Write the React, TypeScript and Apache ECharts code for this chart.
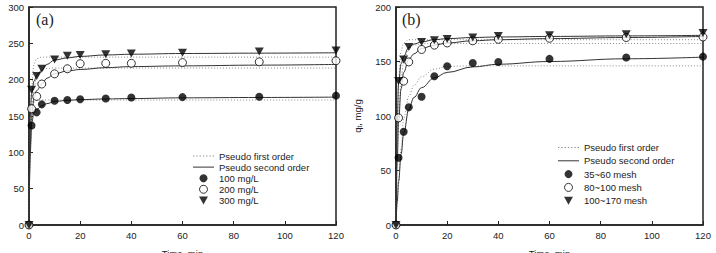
import React, { useEffect, useRef } from "react";
import * as echarts from "echarts";

// Experimental sampling times (min)
const timeMin = [0, 1, 3, 5, 10, 15, 20, 30, 40, 60, 90, 120];
// Panel (a): initial concentrations
const conc100 = [0, 137, 155, 166, 171, 172, 173, 174, 175.5, 176, 176.5, 178];
const conc200 = [0, 160, 177, 194, 208, 215, 222, 222.5, 222.5, 223.5, 224.5, 226];
const conc300 = [0, 186, 205, 215, 227.6, 233, 234, 235, 236, 237, 238.6, 240];
// Panel (b): particle sizes
const mesh35 = [0, 61.7, 85.5, 108, 117.6, 136.5, 145.6, 148.7, 149.6, 152.4, 153.6, 154.5];
const mesh80 = [0, 98.3, 132, 149.6, 161, 165, 167, 169, 170.4, 171.3, 172, 172.5];
const mesh100 = [0, 132, 151.8, 163.4, 168, 169.5, 170.7, 172, 173.4, 174, 175, 176.2];

// Model curves
const fitT = [0, 0.5, 1, 2, 3, 5, 7, 10, 15, 20, 30, 40, 60, 90, 120];
const aPso100 = [0, 100, 140, 155, 159, 164, 167, 170, 171.5, 172.5, 173.5, 174, 175, 175.5, 176];
const aPfo100 = [0, 120, 155, 169, 171.5, 172, 172, 172, 172, 172, 172, 172, 172, 172, 172];
const aPso200 = [0, 110, 150, 175, 185, 194, 202, 208, 212, 214, 216.5, 218, 219, 220, 221];
const aPfo200 = [0, 95, 150, 190, 204, 213, 215.5, 216, 216, 216, 216, 216, 216, 216, 216];
const aPso300 = [0, 150, 180, 198, 206, 213, 221, 227, 230, 232, 234, 235, 236, 236.5, 237];
const aPfo300 = [0, 140, 190, 222, 229, 231, 231, 231, 231, 231, 231, 231, 231, 231, 231];
const bPso35 = [0, 22, 40, 65, 84, 106, 117, 126, 135, 140, 145, 147.5, 150, 152.5, 154];
const bPfo35 = [0, 20, 38, 70, 98, 118, 128, 136, 143, 145.5, 146, 146, 146, 146, 146];
const bPso80 = [0, 60, 95, 125, 140, 152, 157, 162, 165, 167, 169, 170, 171, 172, 173];
const bPfo80 = [0, 65, 100, 135, 150, 162, 165, 166.3, 166.5, 166.5, 166.5, 166.5, 166.5, 166.5, 166.5];
const bPso100 = [0, 95, 130, 148, 155, 163, 166, 168, 170, 171, 172, 172.5, 173, 173.5, 174];
const bPfo100 = [0, 95, 135, 160, 167, 170, 170, 170, 170, 170, 170, 170, 170, 170, 170];

const legendA = ["100 mg/L", "200 mg/L", "300 mg/L"];
const legendB = ["35~60 mesh", "80~100 mesh", "100~170 mesh"];
const PFO = "Pseudo first order";
const PSO = "Pseudo second order";

const FONT = "'Liberation Sans', Arial, sans-serif";
const FS = 9.5;
const DOT_GRAY = "#8a8a8a";
const LINE_DARK = "#333";
const pair = (xs: number[], ys: number[]) => xs.map((x, i) => [x, ys[i]]);

// legend icon paths
const dottedIcon = "path://" + Array.from({ length: 7 }, (_, i) => `M${i * 3},0h1.2v1h-1.2z`).join("");
const solidIcon = "path://M0,0h21v1h-21z";
const triIcon = "path://M0,0L10,0L5,9Z";

function fitLine(name: string, ys: number[], idx: number, dotted: boolean) {
  return {
    type: "line",
    name,
    xAxisIndex: idx,
    yAxisIndex: idx,
    data: pair(fitT, ys),
    smooth: 0.4,
    smoothMonotone: "x",
    symbol: "none",
    showSymbol: false,
    z: 2,
    lineStyle: dotted
      ? { color: DOT_GRAY, width: 1, type: [1, 2] }
      : { color: LINE_DARK, width: 1, type: "solid" },
    itemStyle: { color: dotted ? DOT_GRAY : LINE_DARK },
  };
}

function points(name: string, ys: number[], idx: number, kind: "filled" | "open" | "tri") {
  const base: any = {
    type: "scatter",
    name,
    xAxisIndex: idx,
    yAxisIndex: idx,
    data: pair(timeMin, ys),
    z: 5,
    symbolSize: 8,
  };
  if (kind === "filled") {
    base.symbol = "circle";
    base.itemStyle = { color: "#000" };
  } else if (kind === "open") {
    base.symbol = "circle";
    base.itemStyle = { color: "#fff", borderColor: "#000", borderWidth: 1 };
  } else {
    base.symbol = triIcon;
    base.symbolSize = [9, 8];
    base.itemStyle = { color: "#000" };
  }
  return base;
}

function xAxis(idx: number) {
  return {
    type: "value",
    gridIndex: idx,
    min: 0,
    max: 120,
    interval: 20,
    name: "Time, min",
    nameLocation: "middle",
    nameGap: 23,
    nameTextStyle: { fontFamily: FONT, fontSize: FS, color: "#222" },
    axisLine: { show: true, lineStyle: { color: "#222", width: 1.5 } },
    axisTick: { show: true, inside: true, length: 4, lineStyle: { color: "#222" } },
    axisLabel: { fontFamily: FONT, fontSize: FS, color: "#222", margin: 5 },
    splitLine: { show: false },
  };
}

function yAxis(idx: number, max: number, withName: boolean) {
  return {
    type: "value",
    gridIndex: idx,
    min: 0,
    max,
    interval: 50,
    name: withName ? "q{sub|t}, mg/g" : "",
    nameLocation: "middle",
    nameGap: 33,
    nameRotate: 90,
    nameTextStyle: {
      fontFamily: FONT,
      fontSize: FS,
      color: "#222",
      rich: { sub: { fontFamily: FONT, fontSize: 6.5, color: "#222", verticalAlign: "bottom", padding: [5, 0, 0, 0] } },
    },
    axisLine: { show: true, lineStyle: { color: "#222", width: 1.5 } },
    axisTick: { show: true, inside: true, length: 4, lineStyle: { color: "#222" } },
    axisLabel: { fontFamily: FONT, fontSize: FS, color: "#222", margin: 5 },
    splitLine: { show: false },
  };
}

function legend(left: number, top: number, gap: number, names: string[]) {
  return {
    left,
    top,
    orient: "vertical",
    itemWidth: 21,
    itemHeight: 8,
    itemGap: gap,
    padding: 0,
    selectedMode: false,
    data: [
      { name: PFO, icon: dottedIcon, itemStyle: { color: DOT_GRAY } },
      { name: PSO, icon: solidIcon, itemStyle: { color: LINE_DARK } },
      { name: names[0], icon: "circle", itemStyle: { color: "#000" } },
      { name: names[1], icon: "circle", itemStyle: { color: "#fff", borderColor: "#000", borderWidth: 1 } },
      { name: names[2], icon: triIcon, itemStyle: { color: "#000" } },
    ],
    textStyle: { fontFamily: FONT, fontSize: FS, color: "#222", lineHeight: 10 },
  };
}

export default function App() {
  const ref = useRef<HTMLDivElement>(null);
  useEffect(() => {
    const chart = echarts.init(ref.current!, null, { renderer: "svg" });
    const gridBase = {
      top: 7,
      bottom: 28,
      show: true,
      borderColor: "#222",
      borderWidth: 1.5,
      backgroundColor: "transparent",
      containLabel: false,
      outerBoundsMode: "none",
    };
    const option: any = {
      animation: false,
      backgroundColor: "#fff",
      grid: [
        { ...gridBase, left: 29, right: 380 },
        { ...gridBase, left: 396, right: 13 },
      ],
      xAxis: [xAxis(0), xAxis(1)],
      yAxis: [yAxis(0, 300, false), yAxis(1, 200, true)],
      legend: [legend(193, 151, 1.1, legendA), legend(558, 142.5, 3.3, legendB)],
      graphic: [
        { type: "text", left: 36, top: 11, style: { text: "(a)", font: "16px 'Liberation Serif', 'DejaVu Serif', serif", fill: "#222" } },
        { type: "text", left: 402, top: 11, style: { text: "(b)", font: "16px 'Liberation Serif', 'DejaVu Serif', serif", fill: "#222" } },
      ],
      series: [
        fitLine(PFO, aPfo100, 0, true),
        fitLine(PFO, aPfo200, 0, true),
        fitLine(PFO, aPfo300, 0, true),
        fitLine(PSO, aPso100, 0, false),
        fitLine(PSO, aPso200, 0, false),
        fitLine(PSO, aPso300, 0, false),
        points(legendA[0], conc100, 0, "filled"),
        points(legendA[1], conc200, 0, "open"),
        points(legendA[2], conc300, 0, "tri"),
        fitLine(PFO, bPfo35, 1, true),
        fitLine(PFO, bPfo80, 1, true),
        fitLine(PFO, bPfo100, 1, true),
        fitLine(PSO, bPso35, 1, false),
        fitLine(PSO, bPso80, 1, false),
        fitLine(PSO, bPso100, 1, false),
        points(legendB[0], mesh35, 1, "filled"),
        points(legendB[1], mesh80, 1, "open"),
        points(legendB[2], mesh100, 1, "tri"),
      ],
    };
    chart.setOption(option);
    return () => chart.dispose();
  }, []);
  return <div ref={ref} style={{ position: "fixed", left: 0, top: 0, width: 716, height: 253 }} />;
}
